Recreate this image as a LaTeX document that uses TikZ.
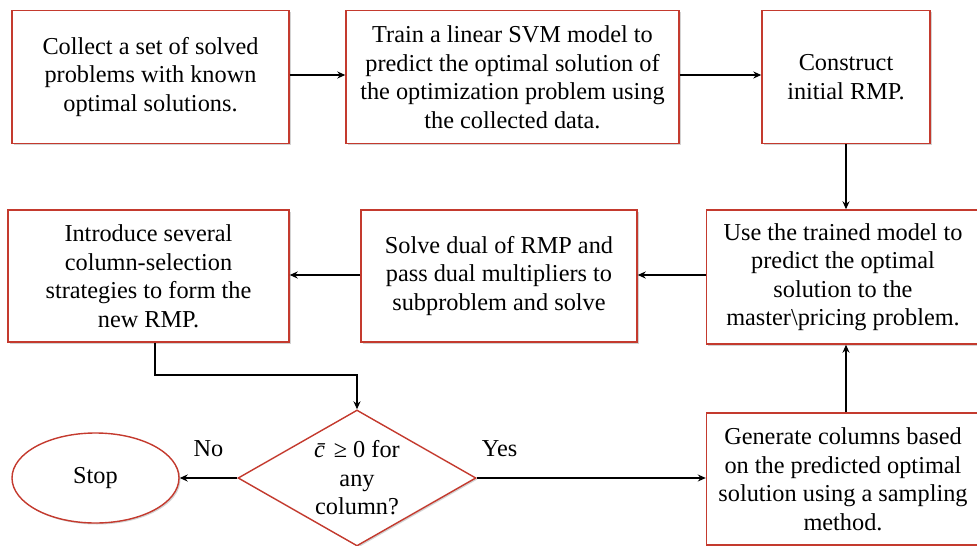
\documentclass[tikz,border=0pt]{standalone}
\usepackage{fontspec}
\setmainfont{Liberation Serif}
\usetikzlibrary{shapes.geometric,shadows,arrows.meta}
\definecolor{boxred}{RGB}{196,58,46}
\begin{document}
\begin{tikzpicture}[x=1pt,y=-1pt,
  font=\fontsize{24.3}{28.5}\selectfont,
  base/.style={draw=boxred,line width=1.4pt,fill=white,align=center,inner sep=0pt,
    drop shadow={shadow xshift=1.5pt,shadow yshift=-1.5pt,opacity=0.35,fill=gray}},
  stepbox/.style={base,rectangle,minimum width=#1},
  arr/.style={-{Stealth[length=8pt,width=7pt]},line width=1.7pt}]
\useasboundingbox (0,0) rectangle (977,546);
\node[stepbox=277pt,minimum height=133pt] (collect) at (150.5,77) {Collect a set of solved\\problems with known\\optimal solutions.};
\node[stepbox=333pt,minimum height=133pt] (train) at (512.5,77) {Train a linear SVM model to\\predict the optimal solution of\\the optimization problem using\\the collected data.};
\node[stepbox=168pt,minimum height=133pt] (construct) at (846,77) {Construct\\initial RMP.};
\node[stepbox=273pt,minimum height=134pt] (use) at (843,277) {Use the trained model to\\predict the optimal\\solution to the\\master\textbackslash pricing problem.};
\node[stepbox=276pt,minimum height=132pt] (solve) at (499,276) {Solve dual of RMP and\\pass dual multipliers to\\subproblem and solve};
\node[stepbox=281pt,minimum height=132pt] (intro) at (148.5,276) {Introduce several\\column-selection\\strategies to form the\\new RMP.};
\node[stepbox=273pt,minimum height=132pt] (gen) at (843,479) {Generate columns based\\on the predicted optimal\\solution using a sampling\\method.};
\node[base,diamond,minimum width=238pt,minimum height=136pt,shape aspect=1.75] (dec) at (357,478) {\textit{\=c}\kern0.12em≥ 0 for\\any\\column?};
\node[base,ellipse,minimum width=167pt,minimum height=90pt] (stop) at (95.5,478) {Stop};
\draw[arr] (collect.east |- 0,75) -- (train.west |- 0,75);
\draw[arr] (train.east |- 0,75) -- (construct.west |- 0,75);
\draw[arr] (construct.south) -- (construct.south |- use.north);
\draw[arr] (use.west |- 0,275) -- (solve.east |- 0,275);
\draw[arr] (solve.west |- 0,275) -- (intro.east |- 0,275);
\coordinate (k1) at (155,375);
\draw[arr] (intro.south -| k1) -- (k1) -- (dec.north |- k1) -- (dec.north);
\draw[arr] (dec.west) -- (stop.east) node[midway,above=17pt] {No};
\draw[arr] (dec.east) -- (gen.west |- dec.east) node[pos=0.1,above=17pt] {Yes};
\draw[arr] (gen.north -| construct.south) -- (use.south -| construct.south);
\end{tikzpicture}
\end{document}
